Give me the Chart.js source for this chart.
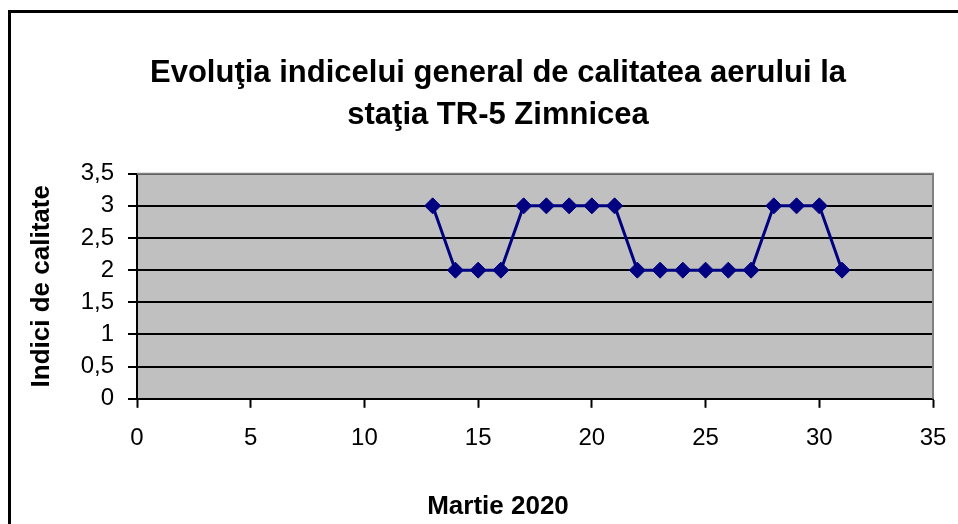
<!DOCTYPE html>
<html>
<head>
<meta charset="utf-8">
<script src="https://cdn.jsdelivr.net/npm/chart.js@4/dist/chart.umd.min.js"></script>
<style>
  body { margin: 0; background: #fff; overflow: hidden; }
  #wrap { position: relative; width: 958px; height: 524px; overflow: hidden; }
  #frame { position: absolute; left: 8px; top: 10px; width: 1000px; height: 1000px; border: 3px solid #000; box-sizing: border-box; }
  canvas { position: absolute; left: 0; top: 0; }
</style>
</head>
<body>
<div id="wrap">
  <div id="frame"></div>
  <canvas id="chart" width="958" height="524"></canvas>
</div>
<script>
const days = [13, 14, 15, 16, 17, 18, 19, 20, 21, 22, 23, 24, 25, 26, 27, 28, 29, 30, 31];
const indexValues = [3, 2, 2, 2, 3, 3, 3, 3, 3, 2, 2, 2, 2, 2, 2, 3, 3, 3, 2];

const titleLines = ['Evoluţia indicelui general de calitatea aerului la', 'staţia TR-5 Zimnicea'];
const xTitle = 'Martie 2020';
const yTitle = 'Indici de calitate';

const fontFamily = '"Liberation Sans", Arial, sans-serif';

// grey plot area with grey top/right edges, like the old Excel charts
const plotArea = {
    id: 'plotArea',
    beforeDraw(chart) {
        const { ctx, chartArea: a } = chart;
        ctx.save();
        ctx.fillStyle = '#C0C0C0';
        ctx.fillRect(a.left, a.top, a.right - a.left, a.bottom - a.top);
        ctx.restore();
    },
    beforeDatasetsDraw(chart) {
        const { ctx, chartArea: a } = chart;
        ctx.save();
        ctx.strokeStyle = '#808080';
        ctx.lineWidth = 2;
        ctx.beginPath();
        ctx.moveTo(a.left, a.top);
        ctx.lineTo(a.right, a.top);
        ctx.lineTo(a.right, a.bottom);
        ctx.stroke();
        ctx.restore();
    }
};

Chart.defaults.color = '#000';
Chart.defaults.font.family = fontFamily;

new Chart(document.getElementById('chart').getContext('2d'), {
    type: 'line',
    data: {
        datasets: [{
            data: days.map((d, i) => ({ x: d, y: indexValues[i] })),
            borderColor: '#000080',
            backgroundColor: '#000080',
            borderWidth: 3,
            pointStyle: 'rectRot',
            pointRadius: 8,
            pointBorderWidth: 1,
            tension: 0
        }]
    },
    options: {
        responsive: false,
        animation: false,
        layout: { padding: { left: 63, right: 25, top: 0, bottom: 0 } },
        plugins: {
            legend: { display: false },
            tooltip: { enabled: false },
            title: {
                display: true,
                text: titleLines,
                font: { size: 31, weight: 'bold', lineHeight: 1.35 },
                padding: { top: 53, bottom: 37 }
            },
            subtitle: {
                display: true,
                position: 'bottom',
                text: xTitle,
                font: { size: 26, weight: 'bold', lineHeight: 1.2 },
                padding: { top: 0, bottom: 2 }
            }
        },
        scales: {
            x: {
                type: 'linear',
                min: 0,
                max: 35,
                ticks: {
                    stepSize: 5,
                    padding: 16,
                    font: { size: 24 },
                    maxRotation: 0
                },
                grid: {
                    drawOnChartArea: false,
                    drawTicks: true,
                    tickLength: 9,
                    tickColor: '#000',
                    tickWidth: 2
                },
                border: { color: '#000', width: 2 },
                afterFit(scale) {
                    scale.height = 92;
                    scale.paddingRight = 14;
                }
            },
            y: {
                min: 0,
                max: 3.5,
                ticks: {
                    stepSize: 0.5,
                    padding: 14,
                    font: { size: 24 },
                    callback: v => String(v).replace('.', ',')
                },
                grid: {
                    color: '#000',
                    lineWidth: 2,
                    tickLength: 9,
                    tickColor: '#000',
                    tickWidth: 2
                },
                border: { color: '#000', width: 2 },
                title: {
                    display: true,
                    text: yTitle,
                    font: { size: 26, weight: 'bold', lineHeight: 1.2 },
                    padding: { top: -37, bottom: 0 }
                },
                afterFit(scale) { scale.width = 74; }
            }
        }
    },
    plugins: [plotArea]
});
</script>
</body>
</html>
